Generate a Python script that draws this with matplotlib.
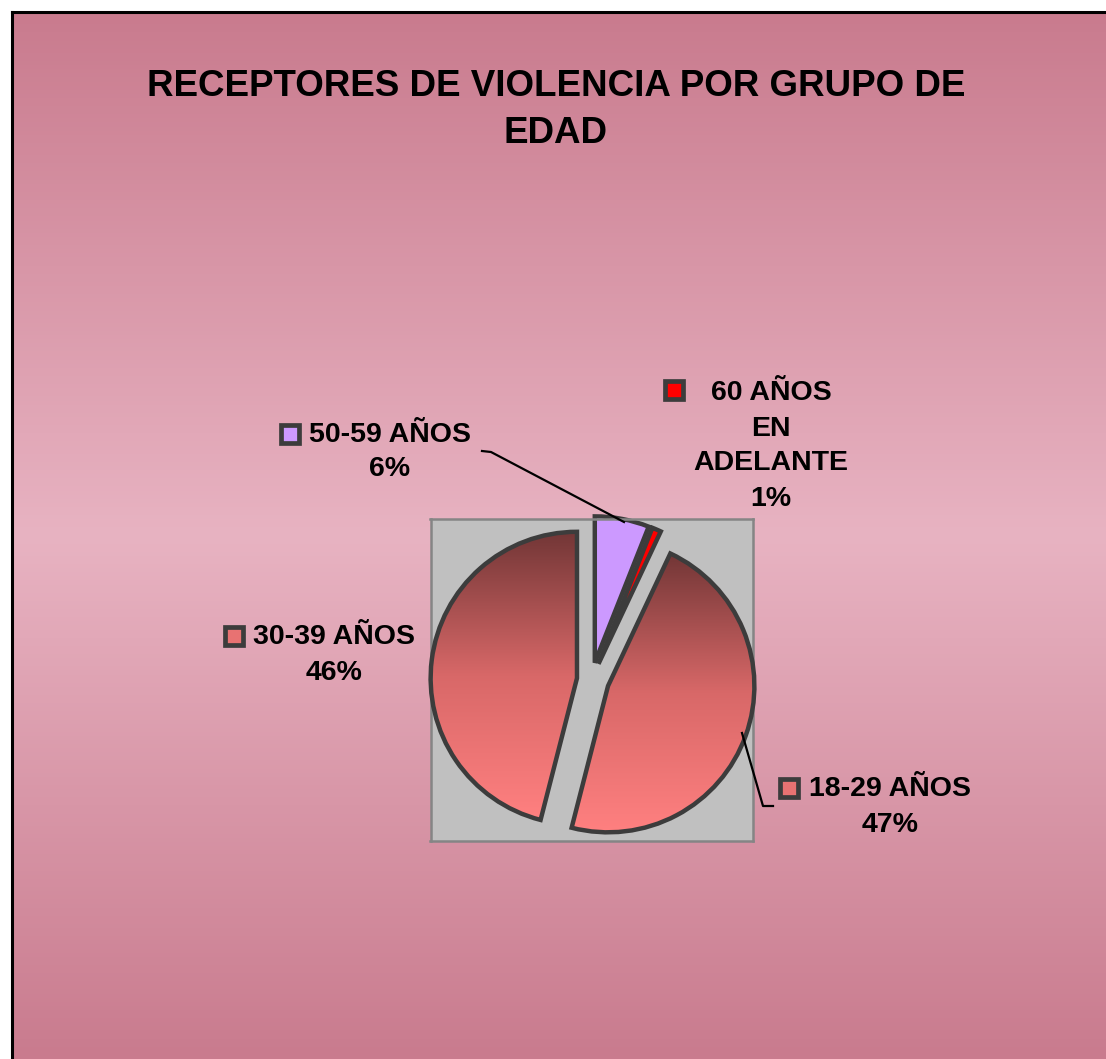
import numpy as np
import matplotlib
matplotlib.use("Agg")
from matplotlib import pyplot as plt
from matplotlib.colors import LinearSegmentedColormap
from matplotlib.patches import Rectangle
from matplotlib.lines import Line2D

plt.rcParams['font.family'] = ['Liberation Sans', 'DejaVu Sans']

# datos
grupos = ["50-59 AÑOS", "60 AÑOS\nEN\nADELANTE", "18-29 AÑOS", "30-39 AÑOS"]
porcentajes = [6, 1, 47, 46]
titulo = "RECEPTORES DE VIOLENCIA POR GRUPO DE\nEDAD"

W, H = 1106, 1059


def fx(x):
    return x / W


def fy(y):
    return 1 - y / H


fig = plt.figure(figsize=(W / 100, H / 100), dpi=100)
fig.patch.set_facecolor("white")

# fondo con degradado
bg = fig.add_axes([fx(12), 0, 1 - fx(12) + 0.01, fy(12)])
fondo = LinearSegmentedColormap.from_list("fondo", ["#c97b8e", "#e8b3c2", "#c97b8e"])
bg.imshow(np.linspace(0, 1, 256).reshape(-1, 1), cmap=fondo, aspect="auto",
          extent=[0, 1, 0, 1])
bg.set_xlim(0, 1)
bg.set_ylim(0, 1)
bg.set_xticks([])
bg.set_yticks([])
for s in ["right", "bottom"]:
    bg.spines[s].set_visible(False)
for s in ["top", "left"]:
    bg.spines[s].set_linewidth(2.2)
    bg.spines[s].set_color("black")

# area del grafico
ax = fig.add_axes([fx(430), fy(841), fx(753) - fx(430), fy(519) - fy(841)])

colores = ["#cc99ff", "#ff0000", "#ff8080", "#ff8080"]
explode = [0.12, 0.12, 0.12, 0.1]
wedges, _ = ax.pie(porcentajes, colors=colores, startangle=90, counterclock=False,
                   explode=explode, frame=True,
                   wedgeprops=dict(edgecolor="#3c3c3c", linewidth=3.2, joinstyle="miter"))
ax.set_facecolor("#c0c0c0")
for s in ax.spines.values():
    s.set_color("#858585")
    s.set_linewidth(1.8)
ax.set_xticks([])
ax.set_yticks([])
ax.set_zorder(2)
for w in wedges:
    w.set_clip_on(False)

grad = LinearSegmentedColormap.from_list("rojo", ["#ff8080", "#d86868", "#723636"])
for w in wedges[2:]:
    bb = w.get_path().get_extents(w.get_patch_transform())
    w.set_facecolor("none")
    w.set_zorder(3)
    im = ax.imshow(np.linspace(0, 1, 256).reshape(-1, 1), cmap=grad, aspect="auto",
                   origin="lower", extent=[bb.x0, bb.x1, bb.y0, bb.y1], zorder=2)
    im.set_clip_path(w)
ax.set_xlim(-1.1, 1.1)
ax.set_ylim(-1.1, 1.1)
ax.set_aspect("equal")

# titulo
fig.text(fx(556), fy(110), titulo, ha="center", va="center", fontsize=26.5,
         fontweight="bold", linespacing=1.45)

# etiquetas
pos_texto = [(390, 452), (771, 446), (890, 807), (334, 655)]
pos_marca = [(290, 434), (674, 390), (789, 788), (234, 636)]
relleno = ["#cc99ff", "#ff0000", "#e87272", "#e87272"]
for i in range(len(grupos)):
    tx, ty = pos_texto[i]
    fig.text(fx(tx), fy(ty), grupos[i] + "\n%d%%" % porcentajes[i], ha="center",
             va="center", fontsize=20.5, fontweight="bold", linespacing=1.45)
    mx, my = pos_marca[i]
    fig.add_artist(Rectangle((fx(mx - 9), fy(my + 9)), 18 / W, 18 / H,
                             transform=fig.transFigure, facecolor=relleno[i],
                             edgecolor="#3c3c3c", linewidth=3.4))

# lineas guia
fig.add_artist(Line2D([fx(482), fx(491), fx(624)], [fy(451), fy(452), fy(522)],
                      transform=fig.transFigure, color="black", linewidth=1.6, zorder=5))
fig.add_artist(Line2D([fx(742), fx(763), fx(773)], [fy(733), fy(806), fy(806)],
                      transform=fig.transFigure, color="black", linewidth=1.6, zorder=5))

fig.savefig("out.png", dpi=100)
